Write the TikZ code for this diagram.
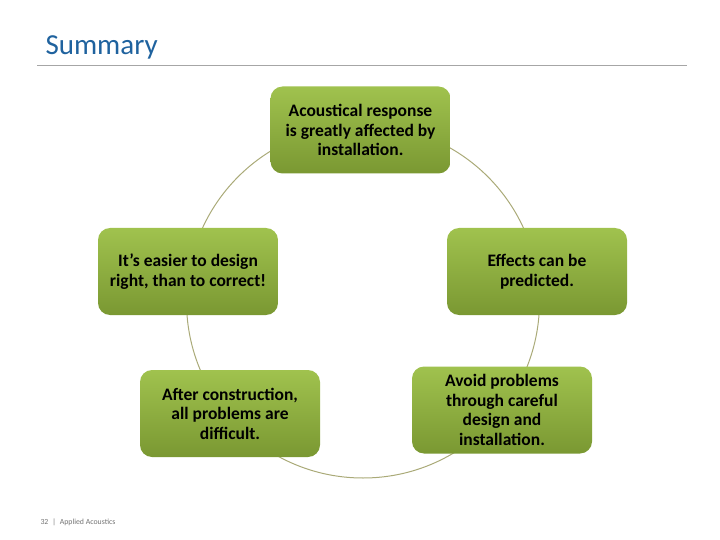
\documentclass[tikz,border=0pt]{standalone}
\usepackage{fontspec}
\setmainfont{Carlito}
\usetikzlibrary{positioning}
\definecolor{SlideBlue}{RGB}{31,98,158}
\definecolor{LeafTop}{RGB}{160,194,78}
\definecolor{LeafBottom}{RGB}{122,152,50}
\definecolor{RingOlive}{RGB}{170,170,120}

\begin{document}
\begin{tikzpicture}[x=1pt,y=-1pt,
  idea/.style={rounded corners=12pt,minimum width=180pt,minimum height=87pt,
    top color=LeafTop,bottom color=LeafBottom,align=center,
    font=\fontsize{17.5}{19.5}\selectfont\bfseries,text=black,inner sep=3pt}]
  \useasboundingbox (0,0) rectangle (720,540);
  \node[anchor=base west,text=SlideBlue,font=\fontsize{29}{32}\selectfont] (title) at (42,55) {Summary};
  \draw[line width=1pt,black!35] (37,66) -- (687,66);
  \coordinate (ring) at (363,301.5);
  \draw[RingOlive,line width=1pt] (ring) circle[radius=176.5pt];
  \node[idea] (install) at (360.5,130) {Acoustical response\\is greatly affected by\\installation.};
  \node[idea] (easier) at (188,271.5) {It’s easier to design\\right, than to correct!};
  \node[idea] (predict) at (537,271.5) {Effects can be\\predicted.};
  \node[idea] (after) at (230,413.5) {After construction,\\all problems are\\difficult.};
  \node[idea] (avoid) at (502,410) {Avoid problems\\through careful\\design and\\installation.};
  \node[anchor=base west,text=black!55,font=\fontsize{7.8}{9}\selectfont] (footer) at (37,524) {32\enspace|\enspace Applied Acoustics};
\end{tikzpicture}
\end{document}
